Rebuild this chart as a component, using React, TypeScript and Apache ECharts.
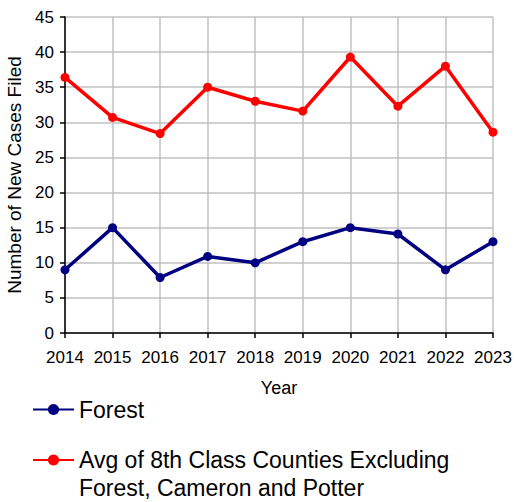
import React, { useEffect, useRef } from "react";
import * as echarts from "echarts";

const years = ["2014", "2015", "2016", "2017", "2018", "2019", "2020", "2021", "2022", "2023"];
const forest = [9, 15, 7.9, 10.9, 10, 13, 15, 14.1, 9, 13];
const avg8th = [36.4, 30.7, 28.4, 35, 33, 31.6, 39.3, 32.3, 38, 28.6];
const forestName = "Forest";
const avgName = "Avg of 8th Class Counties Excluding Forest, Cameron and Potter";
const avgLegendText = "\nAvg of 8th Class Counties Excluding\nForest, Cameron and Potter";

export default function App() {
  const ref = useRef<HTMLDivElement>(null);
  useEffect(() => {
    if (!ref.current) return;
    const chart = echarts.init(ref.current, undefined, { renderer: "svg" });
    const font = "Liberation Sans";
    chart.setOption({
      animation: false,
      backgroundColor: "#ffffff",
      textStyle: { fontFamily: font },
      grid: { left: 65, right: 21, top: 17, bottom: 169, containLabel: false, outerBoundsMode: "none" },
      legend: [
        {
          data: [forestName],
          left: 32,
          top: 398,
          padding: 0,
          itemWidth: 41,
          itemHeight: 14,
          itemGap: 0,
          textStyle: { fontFamily: font, fontSize: 23, color: "#000" },
        },
        {
          data: [avgName],
          left: 32,
          top: 418,
          padding: 0,
          itemWidth: 41,
          itemHeight: 14,
          itemGap: 0,
          formatter: () => avgLegendText,
          textStyle: {
            fontFamily: font,
            fontSize: 23,
            lineHeight: 28,
            color: "#000",
          },
        },
      ],
      xAxis: {
        type: "category",
        data: years,
        boundaryGap: false,
        name: "Year",
        nameLocation: "middle",
        nameGap: 46,
        nameTextStyle: { fontFamily: font, fontSize: 18, color: "#000" },
        axisLine: { lineStyle: { color: "#000", width: 1.5 } },
        axisTick: { show: true, length: 5, lineStyle: { color: "#000", width: 1.5 } },
        axisLabel: { fontFamily: font, fontSize: 17, color: "#000", margin: 16, interval: 0 },
        splitLine: { show: true, lineStyle: { color: "#c0c0c0", width: 1.5 } },
      },
      yAxis: {
        type: "value",
        min: 0,
        max: 45,
        interval: 5,
        name: "Number of New Cases Filed",
        nameLocation: "middle",
        nameGap: 40,
        nameRotate: 90,
        nameTextStyle: { fontFamily: font, fontSize: 19, color: "#000" },
        axisLine: { show: true, lineStyle: { color: "#000", width: 1.5 } },
        axisTick: { show: true, length: 5, lineStyle: { color: "#000", width: 1.5 } },
        axisLabel: { fontFamily: font, fontSize: 17, color: "#000", margin: 11 },
        splitLine: { show: true, lineStyle: { color: "#c0c0c0", width: 1.5 } },
      },
      series: [
        {
          name: forestName,
          type: "line",
          data: forest,
          symbol: "circle",
          symbolSize: 9,
          itemStyle: { color: "#000080" },
          lineStyle: { color: "#000080", width: 3.5 },
        },
        {
          name: avgName,
          type: "line",
          data: avg8th,
          symbol: "circle",
          symbolSize: 9,
          itemStyle: { color: "#ff0000" },
          lineStyle: { color: "#ff0000", width: 3.5 },
        },
      ],
    });
    return () => chart.dispose();
  }, []);
  return (
    <div
      ref={ref}
      style={{ position: "fixed", left: 0, top: 0, width: 514, height: 502 }}
    />
  );
}
